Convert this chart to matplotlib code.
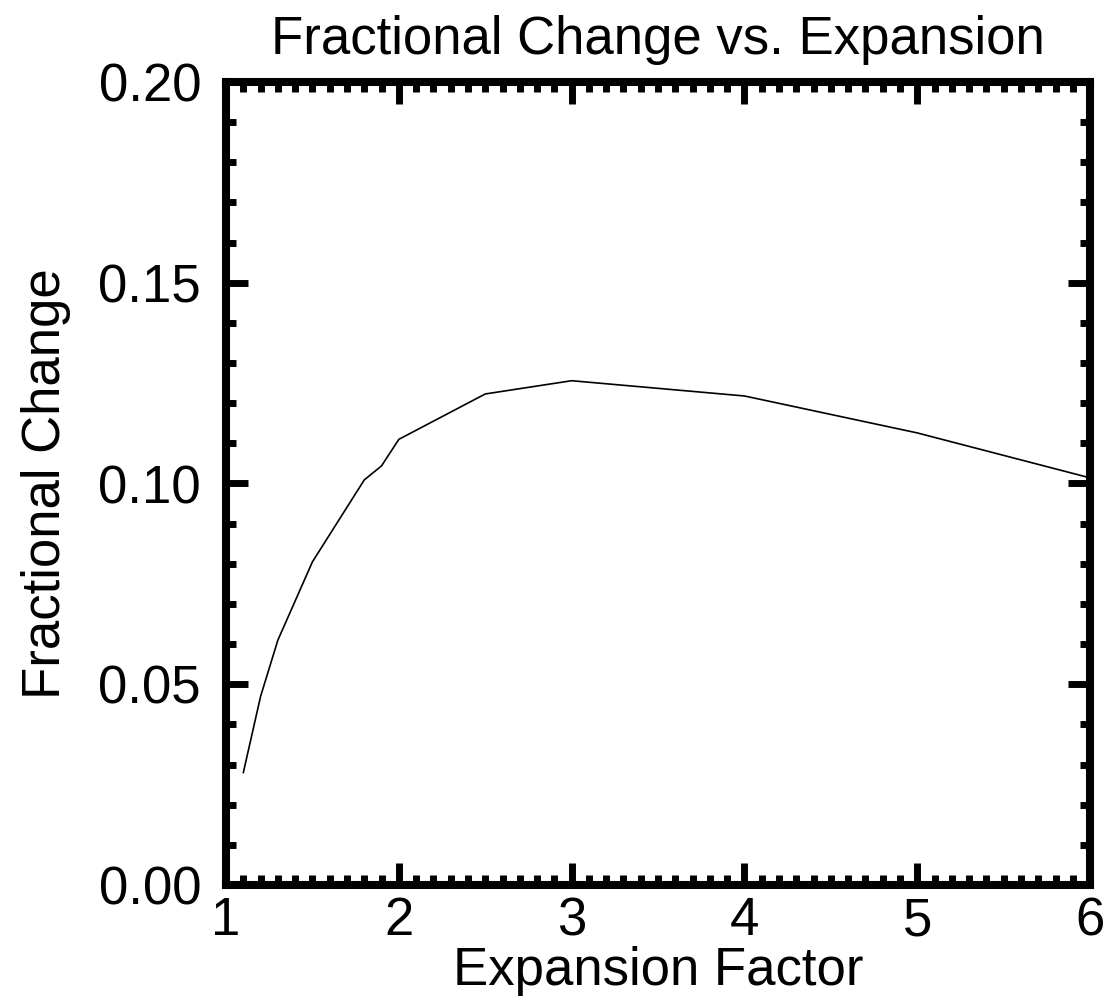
import matplotlib

matplotlib.use("Agg")
import matplotlib.pyplot as plt
from matplotlib.ticker import MultipleLocator

# expansion factor vs. fractional change
expansion = [1.1, 1.2, 1.3, 1.5, 1.8, 1.9, 2.0, 2.5, 3.0, 4.0, 5.0, 6.0]
frac_change = [0.028, 0.047, 0.061, 0.0805, 0.1009, 0.1044, 0.111, 0.1223, 0.1256, 0.1218, 0.1126, 0.1014]

plt.rcParams["font.family"] = ["Liberation Sans", "DejaVu Sans"]
FS = 38

fig = plt.figure(figsize=(11.07, 10.0), dpi=100)
ax = fig.add_axes([0.2042, 0.115, 0.7805, 0.803])

ax.plot(expansion, frac_change, color="black", lw=1.2)

ax.set_xlim(1, 6)
ax.set_ylim(0, 0.20)
ax.xaxis.set_major_locator(MultipleLocator(1))
ax.xaxis.set_minor_locator(MultipleLocator(0.1))
ax.yaxis.set_major_locator(MultipleLocator(0.05))
ax.yaxis.set_minor_locator(MultipleLocator(0.01))
ax.yaxis.set_major_formatter(lambda v, pos: f"{v:.2f}")

for s in ax.spines.values():
    s.set_linewidth(5.8)
ax.tick_params(which="both", direction="in", top=True, right=True, width=5, labelsize=FS)
ax.tick_params(which="major", length=16)
ax.tick_params(which="minor", length=7.5)
ax.tick_params(axis="x", which="major", pad=8)
ax.tick_params(axis="y", which="major", pad=18)

ax.set_title("Fractional Change vs. Expansion", fontsize=FS, pad=20)
ax.set_xlabel("Expansion Factor", fontsize=FS, labelpad=0)
ax.set_ylabel("Fractional Change", fontsize=FS, labelpad=20)

fig.savefig("out.png", dpi=100)
